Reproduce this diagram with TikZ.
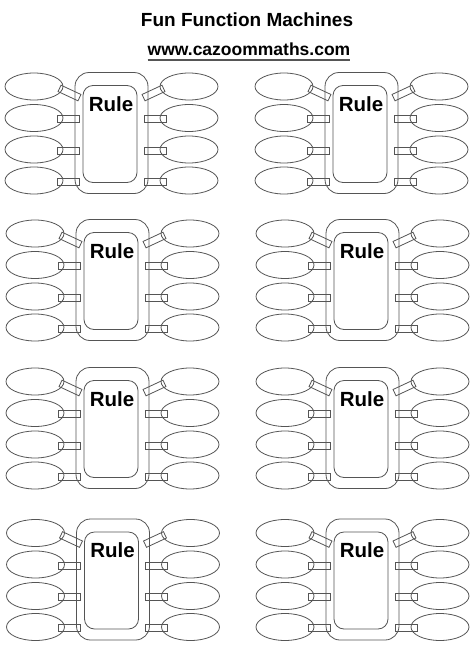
\documentclass[tikz,border=0pt]{standalone}
\usepackage{fontspec}
\setmainfont{Liberation Sans}
\usetikzlibrary{shapes.geometric}
\definecolor{lineg}{RGB}{85,85,85}
\tikzset{
  part/.style={draw=lineg, line width=0.8pt},
  outerbox/.style={part, rounded corners=14pt, minimum width=73pt, minimum height=121pt, inner sep=0pt},
  innerbox/.style={part, rounded corners=10pt, minimum width=54pt, minimum height=97pt, inner sep=0pt},
  oval/.style={part, ellipse, minimum width=58pt, minimum height=27pt, inner sep=0pt},
  plug/.style={part, rectangle, minimum width=22pt, minimum height=7pt, inner sep=0pt},
  rulelabel/.style={anchor=base, inner sep=0pt, font=\fontsize{20.5}{24}\selectfont\bfseries},
}
\newcommand\fmmachine[3]{%
  \begin{scope}[shift={(#2,#3)}]
    \node[outerbox] (#1o) at (36.5,60.5) {};
    \node[innerbox] (#1i) at (35,61.5) {};
    \node[rulelabel] (#1t) at (36,38.5) {Rule};
    \node[oval] (#1l1) at (-41,14) {};
    \node[oval] (#1r1) at (114,14) {};
    \node[plug, rotate=-25] (#1pl1) at (-5.5,20.5) {};
    \node[plug, rotate=25] (#1pr1) at (78.5,20.5) {};
    \foreach \k/\yy in {2/45.5,3/77,4/108}{
      \node[oval] (#1l\k) at (-41,\yy) {};
      \node[oval] (#1r\k) at (114,\yy) {};
      \node[plug] (#1pl\k) at (-7,\yy+1) {};
      \node[plug] (#1pr\k) at (80,\yy+1) {};
    }
  \end{scope}}
\begin{document}
\begin{tikzpicture}[x=1pt,y=-1pt]
  \useasboundingbox (0,0) rectangle (474,670);
  \fill[white] (0,0) rectangle (474,670);
  \node[anchor=base, inner sep=0pt, font=\fontsize{19}{22}\selectfont\bfseries] (title) at (247,26.7) {Fun Function Machines};
  \node[anchor=base, inner sep=0pt, font=\fontsize{17.5}{21}\selectfont\bfseries] (url) at (249,55.7) {www.cazoommaths.com};
  \draw[lineg, line width=1.2pt] ([yshift=-4.3pt]url.base west) -- ([yshift=-4.3pt]url.base east);
  \fmmachine{a}{75}{72.5}
  \fmmachine{b}{325}{72.5}
  \fmmachine{c}{76}{219.5}
  \fmmachine{d}{326}{219.5}
  \fmmachine{e}{76}{367.5}
  \fmmachine{f}{326}{367.5}
  \fmmachine{g}{76.5}{519}
  \fmmachine{h}{326}{519}
\end{tikzpicture}
\end{document}
